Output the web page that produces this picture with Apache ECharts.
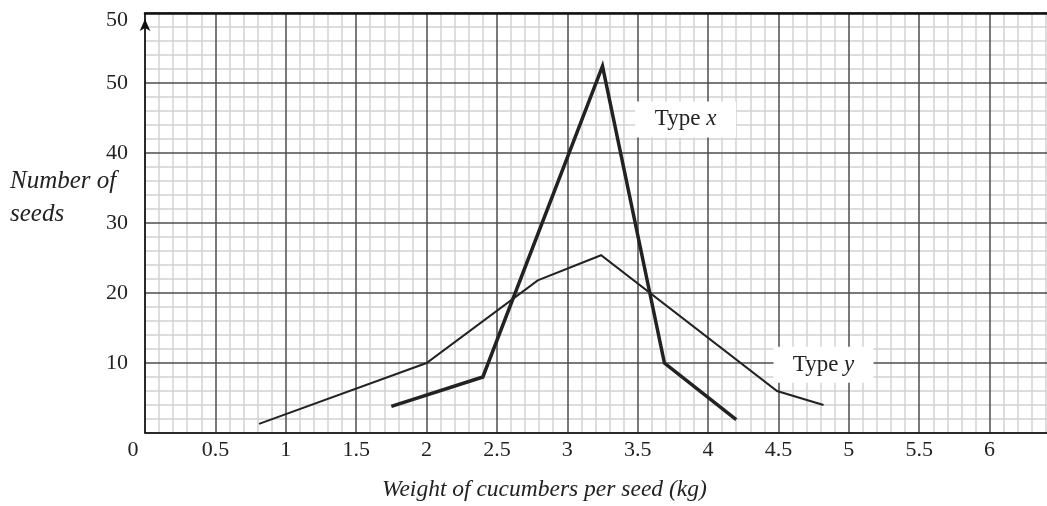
<!DOCTYPE html>
<html>
<head>
<meta charset="utf-8">
<script src="https://cdn.jsdelivr.net/npm/echarts@6/dist/echarts.min.js"></script>
<style>html,body{margin:0;padding:0;background:#fff;}#c{width:1047px;height:506px;}</style>
</head>
<body>
<div id="c"></div>
<script>
const typeXWeights = [1.75, 2.4, 3.25, 3.69, 4.2];
const typeXSeeds = [3.8, 8, 52.4, 10, 1.9];
const typeYWeights = [0.81, 2.0, 2.79, 3.24, 4.49, 4.82];
const typeYSeeds = [1.3, 10, 21.8, 25.4, 6, 4];
const yTickLabels = ['', '10', '20', '30', '40', '50', '50'];
const seriesNames = ['Type x', 'Type y'];
const labelAnchors = [[3.84, 44.8], [4.82, 9.76]];

const FONT = 'Liberation Serif';
const INK = '#222';
const X_MAX = 6.5, Y_MAX = 60;

function pairs(xs, ys) { return xs.map((x, i) => [x, ys[i]]); }

function markLabel(anchor, letter, w) {
  return {
    silent: true,
    animation: false,
    symbol: 'rect',
    symbolSize: [w, 36],
    itemStyle: { color: '#fff' },
    label: {
      show: true, position: 'inside',
      formatter: '{r|Type }{i|' + letter + '}',
      rich: {
        r: { fontFamily: FONT, fontSize: 23, color: INK },
        i: { fontFamily: FONT, fontSize: 23, fontStyle: 'italic', color: INK }
      }
    },
    data: [{ coord: anchor }]
  };
}

const minorLine = { show: true, lineStyle: { color: '#d2d2d2', width: 1.5, type: 'solid' } };
const majorLine = { show: true, lineStyle: { color: '#4d4d4d', width: 1.5, type: 'solid' } };

const chart = echarts.init(document.getElementById('c'), null, { renderer: 'canvas' });
chart.setOption({
  animation: false,
  backgroundColor: '#fff',
  title: [
    { text: 'Number of\nseeds', left: 10, top: 165, padding: 0,
      textStyle: { fontFamily: FONT, fontStyle: 'italic', fontWeight: 'normal', fontSize: 25, lineHeight: 33, color: INK } },
    { text: 'Weight of cucumbers per seed (kg)', left: 382, top: 478, padding: 0,
      textStyle: { fontFamily: FONT, fontStyle: 'italic', fontWeight: 'normal', fontSize: 23.5, color: INK } }
  ],
  grid: { left: 145, width: 915, top: 13, bottom: 73, containLabel: false, outerBoundsMode: 'none' },
  xAxis: [
    {
      type: 'value', min: 0, max: X_MAX, interval: 0.5, z: 2,
      axisLine: { show: true, onZero: false, lineStyle: { color: '#111', width: 1.5 } },
      axisTick: { show: false },
      splitLine: majorLine,
      axisLabel: {
        margin: 6, showMaxLabel: false,
        fontFamily: FONT, fontSize: 22, color: INK,
        formatter: function (v) { return v === 0 ? '{z|0}' : String(v); },
        rich: { z: { fontFamily: FONT, fontSize: 22, color: INK, padding: [0, 24, 8, 0] } }
      }
    },
    {
      type: 'value', min: 0, max: X_MAX, position: 'top', z: 3,
      axisLine: { show: true, onZero: false, lineStyle: { color: '#111', width: 2.5 } },
      axisTick: { show: false }, axisLabel: { show: false }, splitLine: { show: false }
    },
    {
      type: 'value', min: 0, max: X_MAX, interval: 0.5, z: 0,
      axisLine: { show: false }, axisTick: { show: false }, axisLabel: { show: false },
      splitLine: { show: false },
      minorTick: { show: false, splitNumber: 5 },
      minorSplitLine: minorLine
    }
  ],
  yAxis: [
    {
      type: 'value', min: 0, max: Y_MAX, interval: 10, z: 2,
      axisLine: { show: true, onZero: false, symbol: ['none', 'arrow'], symbolSize: [8, 12], symbolOffset: [0, -6],
        lineStyle: { color: '#111', width: 1.5 } },
      axisTick: { show: false },
      splitLine: majorLine,
      axisLabel: {
        margin: 17, fontFamily: FONT, fontSize: 22, color: INK,
        formatter: function (v) {
          const s = yTickLabels[Math.round(v / 10)];
          return v === 60 ? '{t|' + s + '}' : s;
        },
        rich: { t: { fontFamily: FONT, fontSize: 22, color: INK, padding: [14, 0, 0, 0] } }
      }
    },
    {
      type: 'value', min: 0, max: Y_MAX, interval: 10, z: 0,
      axisLine: { show: false }, axisTick: { show: false }, axisLabel: { show: false },
      splitLine: { show: false },
      minorTick: { show: false, splitNumber: 5 },
      minorSplitLine: minorLine
    }
  ],
  series: [
    {
      name: seriesNames[0], type: 'line', xAxisIndex: 0, yAxisIndex: 0,
      data: pairs(typeXWeights, typeXSeeds),
      showSymbol: false, symbol: 'none',
      lineStyle: { color: INK, width: 3.5, cap: 'butt', join: 'miter' },
      z: 3,
      markPoint: markLabel(labelAnchors[0], 'x', 101)
    },
    {
      name: seriesNames[1], type: 'line', xAxisIndex: 0, yAxisIndex: 0,
      data: pairs(typeYWeights, typeYSeeds),
      showSymbol: false, symbol: 'none',
      lineStyle: { color: INK, width: 2, join: 'miter' },
      z: 3,
      markPoint: markLabel(labelAnchors[1], 'y', 100)
    }
  ]
});
</script>
</body>
</html>
